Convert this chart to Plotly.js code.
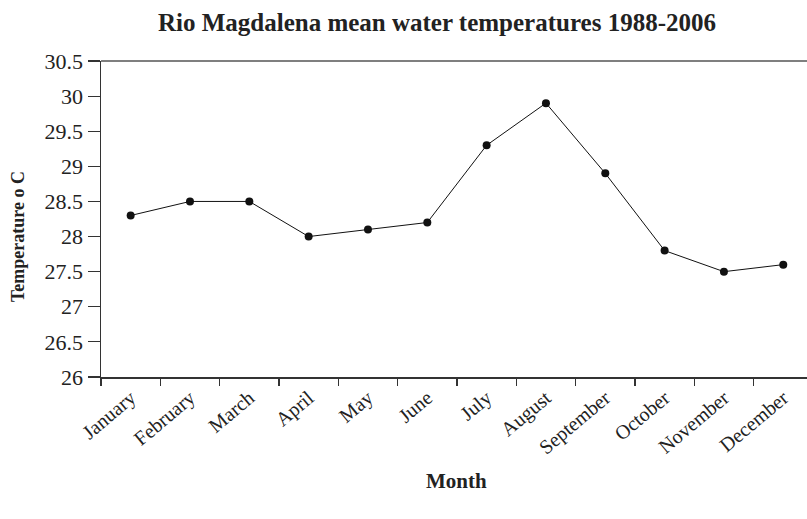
<!DOCTYPE html>
<html>
<head>
<meta charset="utf-8">
<script src="https://cdn.plot.ly/plotly-3.0.1.min.js"></script>
<style>html,body{margin:0;padding:0;background:#fff;}#chart{width:807px;height:519px;}</style>
</head>
<body>
<div id="chart"></div>
<script>
const months = ["January","February","March","April","May","June","July","August","September","October","November","December"];
const temperatures = [28.3, 28.5, 28.5, 28.0, 28.1, 28.2, 29.3, 29.9, 28.9, 27.8, 27.5, 27.6];
const yTicks = [26, 26.5, 27, 27.5, 28, 28.5, 29, 29.5, 30, 30.5];
const yTickText = ["26","26.5","27","27.5","28","28.5","29","29.5","30","30.5"];

const serif = "Liberation Serif, Times New Roman, serif";
const ink = "#222";

const trace = {
  x: months,
  y: temperatures,
  type: "scatter",
  mode: "lines+markers",
  line: {color: "#111", width: 1},
  marker: {color: "#111", size: 8, symbol: "circle"},
  hoverinfo: "x+y"
};

const layout = {
  width: 807, height: 519,
  margin: {l: 101, r: 0, t: 61, b: 142},
  paper_bgcolor: "#fff", plot_bgcolor: "#fff",
  showlegend: false,
  font: {family: serif, color: ink},
  title: {
    text: "<b>Rio Magdalena mean water temperatures 1988-2006</b>",
    font: {family: serif, size: 25, color: ink},
    xref: "container", x: 0.5415, xanchor: "center",
    yref: "container", y: 1 - 22/519, yanchor: "middle"
  },
  xaxis: {
    type: "category",
    categoryorder: "array", categoryarray: months,
    range: [-0.5, 11.4],
    tickson: "boundaries",
    ticks: "outside", ticklen: 7, tickwidth: 1.2, tickcolor: "#333",
    showline: true, linecolor: "#333", linewidth: 1.5,
    showgrid: false, zeroline: false,
    tickangle: -40,
    tickfont: {family: serif, size: 20, color: ink}
  },
  yaxis: {
    range: [26, 30.5],
    tickvals: yTicks, ticktext: yTickText,
    ticks: "outside", ticklen: 12, tickwidth: 1.2, tickcolor: "#333",
    showline: true, linecolor: "#333", linewidth: 1.5,
    showgrid: false, zeroline: false,
    tickfont: {family: serif, size: 22, color: ink}
  },
  annotations: [
    {
      text: "<b>Month</b>", showarrow: false,
      xref: "paper", yref: "paper", x: 0.503, y: -0.329,
      xanchor: "center", yanchor: "middle",
      font: {family: serif, size: 21, color: ink}
    },
    {
      text: "<b>Temperature o C</b>", showarrow: false, textangle: -90,
      xref: "paper", yref: "paper", x: -0.1176, y: 0.446,
      xanchor: "center", yanchor: "middle",
      font: {family: serif, size: 18, color: ink}
    }
  ],
  shapes: [{
    type: "line", xref: "paper", yref: "paper",
    x0: 0, x1: 1, y0: 1, y1: 1,
    line: {color: "#555", width: 1.5}
  }]
};

Plotly.newPlot("chart", [trace], layout, {displayModeBar: false, staticPlot: true});
</script>
</body>
</html>
